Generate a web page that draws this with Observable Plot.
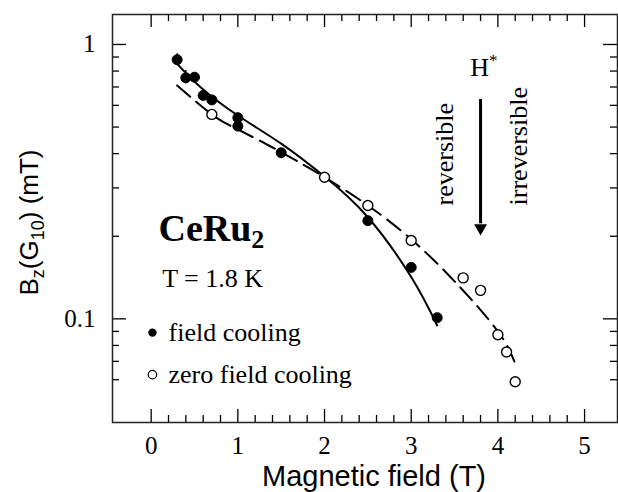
<!DOCTYPE html>
<html><head><meta charset="utf-8">
<script src="https://cdn.jsdelivr.net/npm/d3@7"></script>
<script src="https://cdn.jsdelivr.net/npm/@observablehq/plot@0.6"></script>
<style>html,body{margin:0;padding:0;background:#fff} svg{display:block}</style>
</head><body><div id="chart"></div>
<script>
// ---- data ----
const fcField = [0.3, 0.4, 0.5, 0.6, 0.7, 1.0, 1.0, 1.5, 2.5, 3.0, 3.3];
const fcB     = [0.88, 0.756, 0.76, 0.652, 0.628, 0.541, 0.504, 0.403, 0.228, 0.154, 0.101];
const zfcField = [0.7, 2.0, 2.5, 3.0, 3.6, 3.8, 4.0, 4.1, 4.2];
const zfcB     = [0.556, 0.328, 0.259, 0.193, 0.141, 0.127, 0.0875, 0.0757, 0.059];
const fcFitField = [0.3, 0.57, 1.0, 1.5, 2.0, 2.5, 3.0, 3.3];
const fcFitB     = [0.85, 0.699, 0.551, 0.435, 0.330, 0.2346, 0.142, 0.0946];
const zfcFitField = [0.3, 0.7, 1.0, 1.5, 2.0, 2.5, 3.0, 3.5, 4.0, 4.2];
const zfcFitB     = [0.709, 0.556, 0.49, 0.405, 0.328, 0.259, 0.195, 0.137, 0.09, 0.0686];
const errField = [0.3, 0.4];
const errLo = [0.84, 0.719];
const errHi = [0.925, 0.804];
const xMajor = [0, 1, 2, 3, 4, 5];
const xMinor = [0.2,0.4,0.6,0.8,1.2,1.4,1.6,1.8,2.2,2.4,2.6,2.8,3.2,3.4,3.6,3.8,4.2,4.4,4.6,4.8];
const yMajor = [0.1, 1];
const yMinor = [0.06,0.07,0.08,0.09,0.2,0.3,0.4,0.5,0.6,0.7,0.8,0.9];
const xLabel = "Magnetic field (T)";
const legendLabels = ["field cooling", "zero field cooling"];

// ---- layout ----
const W = 618, H = 492, mL = 112, mR = 1, mT = 14, mB = 70;
const pw = W - mL - mR, ph = H - mT - mB;
const serif = "'Liberation Serif', 'Times New Roman', serif";
const sans = "'Liberation Sans', Arial, sans-serif";

const fc = fcField.map((x, i) => ({x, y: fcB[i]}));
const zfc = zfcField.map((x, i) => ({x, y: zfcB[i]}));
const fcFit = fcFitField.map((x, i) => ({x, y: fcFitB[i]}));
const zfcFit = zfcFitField.map((x, i) => ({x, y: zfcFitB[i]}));
const errs = errField.map((x, i) => ({x, lo: errLo[i], hi: errHi[i]}));

const chart = Plot.plot({
  width: W, height: H,
  marginLeft: mL, marginRight: mR, marginTop: mT, marginBottom: mB,
  x: {domain: [-0.446, 5.38]},
  y: {type: "log", domain: [0.0419, 1.286]},
  style: {fontFamily: serif, background: "white", color: "black", overflow: "hidden"},
  marks: [
    // inward ticks on all four sides
    Plot.tickX(xMajor, {x: d => d, insetTop: ph - 13, stroke: "black", strokeWidth: 1.3}),
    Plot.tickX(xMinor, {x: d => d, insetTop: ph - 7, stroke: "black", strokeWidth: 1.3}),
    Plot.tickX(xMajor, {x: d => d, insetBottom: ph - 13, stroke: "black", strokeWidth: 1.3}),
    Plot.tickX(xMinor, {x: d => d, insetBottom: ph - 7, stroke: "black", strokeWidth: 1.3}),
    Plot.tickY(yMajor, {y: d => d, insetRight: pw - 14, stroke: "black", strokeWidth: 1.3}),
    Plot.tickY(yMinor, {y: d => d, insetRight: pw - 7, stroke: "black", strokeWidth: 1.3}),
    Plot.tickY(yMajor, {y: d => d, insetLeft: pw - 14, stroke: "black", strokeWidth: 1.3}),
    Plot.tickY(yMinor, {y: d => d, insetLeft: pw - 7, stroke: "black", strokeWidth: 1.3}),
    Plot.frame({stroke: "#222", strokeWidth: 1.5}),
    Plot.axisX(xMajor, {tickSize: 0, tickPadding: 14, fontSize: 25, label: null, fontFamily: serif}),
    Plot.axisY(yMajor, {tickSize: 0, tickPadding: 17, fontSize: 25, label: null, fontFamily: serif,
      tickFormat: d => String(d)}),
    // fits
    Plot.line(fcFit, {x: "x", y: "y", curve: "natural", stroke: "black", strokeWidth: 2}),
    Plot.line(zfcFit, {x: "x", y: "y", curve: "natural", stroke: "black", strokeWidth: 2,
      strokeDasharray: "17,8"}),
    // error bars
    Plot.ruleX(errs, {x: "x", y1: "lo", y2: "hi", stroke: "black", strokeWidth: 1.5}),
    // data
    Plot.dot(fc, {x: "x", y: "y", r: 5, fill: "black", stroke: "black", strokeWidth: 1}),
    Plot.dot(zfc, {x: "x", y: "y", r: 5, fill: "white", stroke: "black", strokeWidth: 1.4}),
    // legend
    Plot.dot([legendLabels[0]], {x: [0.015], y: [0.0891], r: 4.2, fill: "black"}),
    Plot.dot([legendLabels[1]], {x: [0.015], y: [0.0626], r: 4.2, fill: "white", stroke: "black", strokeWidth: 1.2}),
    Plot.text(legendLabels, {x: [0.2, 0.2], y: [0.0891, 0.0626], text: d => d, textAnchor: "start",
      fontSize: 26, fontFamily: serif}),
    // annotations
    Plot.text(["CeRu2"], {x: [0.084], y: [0.2134], text: d => d, textAnchor: "start",
      fontSize: 38, fontWeight: "bold", fontFamily: serif, className: "lbl-ceru"}),
    Plot.text(["T = 1.8 K"], {x: [0.127], y: [0.1396], text: d => d, textAnchor: "start",
      fontSize: 26, fontFamily: serif}),
    Plot.text(["H*"], {x: [3.68], y: [0.824], text: d => d, textAnchor: "start",
      fontSize: 26, fontFamily: serif, className: "lbl-h"}),
    Plot.ruleX([0], {x: [3.80], y1: [0.630], y2: [0.222], stroke: "black", strokeWidth: 3}),
    Plot.dot([0], {x: [3.80], y: [0.2143], symbol: "triangle", rotate: 180, r: 4.8, fill: "black"}),
    Plot.text(["reversible"], {x: [3.39], y: [0.259], text: d => d, textAnchor: "start", rotate: -90,
      fontSize: 26, fontFamily: serif}),
    Plot.text(["irreversible"], {x: [4.245], y: [0.259], text: d => d, textAnchor: "start", rotate: -90,
      fontSize: 26, fontFamily: serif}),
    // axis titles
    Plot.text([xLabel], {frameAnchor: "bottom", textAnchor: "middle", lineAnchor: "bottom",
      dx: 9, dy: 63, text: d => d, fontSize: 29, fontFamily: sans}),
    Plot.text(["Bz(G10) (mT)"], {frameAnchor: "left", textAnchor: "middle", lineAnchor: "middle",
      dx: -83, dy: 4, rotate: -90, text: d => d,
      fontSize: 26, fontFamily: sans, className: "lbl-y"})
  ]
});

document.getElementById("chart").appendChild(chart);

// rich text (sub/superscripts) as real text
const NS = "http://www.w3.org/2000/svg";
function rich(cls, parts) {
  const t = chart.querySelector(`g.${cls} text`);
  if (!t) return;
  t.textContent = "";
  for (const [s, size, dy] of parts) {
    const sp = document.createElementNS(NS, "tspan");
    sp.textContent = s;
    if (size) sp.setAttribute("font-size", size);
    if (dy) sp.setAttribute("dy", dy);
    t.appendChild(sp);
  }
}
rich("lbl-ceru", [["CeRu"], ["2", 26, 7]]);
rich("lbl-h", [["H"], ["*", 17, -10]]);
rich("lbl-y", [["B"], ["z", 18, 6], ["(G", null, -6], ["10", 18, 6], [") (mT)", null, -6]]);
</script>
</body></html>
